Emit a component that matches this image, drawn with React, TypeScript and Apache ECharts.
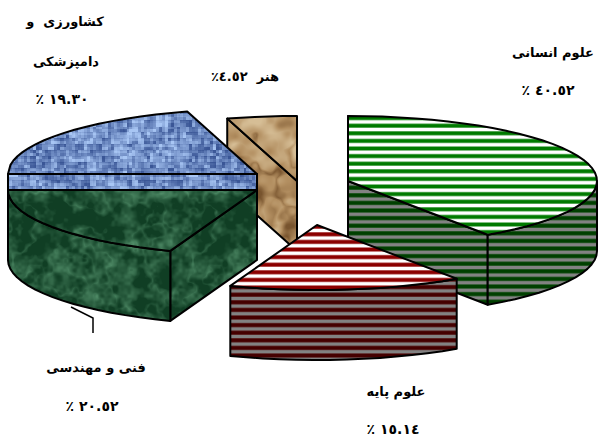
import React, { useEffect, useRef } from "react";
import * as echarts from "echarts";

// ---- data (clockwise from 12 o'clock) ----
const categories = ["علوم انسانی", "علوم پایه", "فنی و مهندسی", "کشاورزی و دامپزشکی", "هنر"];
const shares = [40.52, 15.14, 20.52, 19.3, 4.52];

// ---- layout ----
const centers = [[348, 181], [317, 225], [257, 190], [257, 174], [297, 181]];
const drawOrder = [4, 5, 3, 2, 1];
const RX = 249, RY = 65, DEPTH = 70;

// ---- textures ----
function stripes(color: string, soft: string, gap: string, center: number) {
  const c = document.createElement("canvas");
  c.width = 4; c.height = 38;
  const g = c.getContext("2d")!;
  g.fillStyle = gap; g.fillRect(0, 0, 4, 38);
  for (let i = -1; i < 6; i++) {
    const y = center + i * 7.6;
    g.fillStyle = soft; g.fillRect(0, y - 2.3, 4, 4.6);
    g.fillStyle = color; g.fillRect(0, y - 1.5, 4, 3);
  }
  return { image: c, repeat: "repeat", imageWidth: 4, imageHeight: 38 } as any;
}
function hash(x: number, y: number) {
  const s = Math.sin(x * 12.9898 + y * 78.233) * 43758.5453;
  return s - Math.floor(s);
}
// tileable smooth noise built from a fixed hash
function noise(x: number, y: number, cells: number, seed: number) {
  const fx = x * cells, fy = y * cells;
  const ix = Math.floor(fx), iy = Math.floor(fy);
  const tx = fx - ix, ty = fy - iy;
  const sx = tx * tx * (3 - 2 * tx), sy = ty * ty * (3 - 2 * ty);
  const at = (a: number, b: number) => hash((a % cells) + seed, (b % cells) + seed * 2);
  const top = at(ix, iy) + (at(ix + 1, iy) - at(ix, iy)) * sx;
  const bot = at(ix, iy + 1) + (at(ix + 1, iy + 1) - at(ix, iy + 1)) * sx;
  return top + (bot - top) * sy;
}
function fbm(x: number, y: number, base: number, seed: number) {
  return (noise(x, y, base, seed) * 0.5 + noise(x, y, base * 2, seed + 3) * 0.3 + noise(x, y, base * 4, seed + 7) * 0.2);
}
function texture(fn: (x: number, y: number) => number[]) {
  const N = 180;
  const c = document.createElement("canvas");
  c.width = N; c.height = N;
  const g = c.getContext("2d")!;
  const im = g.createImageData(N, N);
  for (let y = 0; y < N; y++) for (let x = 0; x < N; x++) {
    const v = fn(x / N, y / N);
    const i = (y * N + x) * 4;
    im.data[i] = v[0]; im.data[i + 1] = v[1]; im.data[i + 2] = v[2]; im.data[i + 3] = 255;
  }
  g.putImageData(im, 0, 0);
  return { image: c, repeat: "repeat", imageWidth: N, imageHeight: N } as any;
}
const mix = (a: number[], b: number[], t: number) => {
  const k = Math.max(0, Math.min(1, t));
  return a.map((v, i) => v + (b[i] - v) * k);
};
const marble = () => texture((x, y) => {
  const n = fbm(x, y, 14, 5);
  const vein = 1 - Math.abs(2 * fbm(x, y, 9, 11) - 1) * 3.6;
  const t = 0.1 + (n - 0.5) * 1.3 + Math.max(0, vein) * 0.36;
  return mix([16, 62, 36], [88, 150, 112], t);
});
const denim = () => texture((x, y) => {
  const px = Math.floor(x * 180), py = Math.floor(y * 180);
  const h = hash(Math.floor(px / 3) % 60, Math.floor(py / 6) % 30) * 0.5 + hash(Math.floor(px / 6) % 30 + 40, Math.floor(py / 3) % 60) * 0.5;
  const low = fbm(x, y, 12, 21);
  const t = 0.52 + 1.1 * (h - 0.5) + 0.8 * (low - 0.5) + (py % 6 === 0 ? -0.12 : 0);
  return mix([58, 86, 150], [168, 198, 244], t);
});
const paper = () => texture((x, y) => {
  const n = fbm(x, y, 5, 31);
  const crease = Math.max(0, 1 - Math.abs(2 * fbm(x + y * 0.3, y, 4, 37) - 1) * 5);
  const t = 0.42 + (n - 0.5) * 2 + crease * 0.3 - Math.max(0, 1 - Math.abs(2 * fbm(x, y, 6, 43) - 1) * 6) * 0.3;
  return t < 0.5 ? mix([120, 84, 46], [178, 142, 96], t * 2) : mix([178, 142, 96], [214, 190, 150], t * 2 - 1);
});

// ---- labels ----
const labelLines = [
  { text: "کشاورزی  و", x: 65, y: 21, size: 13 },
  { text: "دامپزشکی", x: 66, y: 61, size: 13 },
  { text: "٪ ١٩.٣٠", x: 62, y: 99, size: 14 },
  { text: "٪٤.٥٢\u200E  هنر", x: 245, y: 76, size: 13 },
  { text: "علوم انسانی", x: 553, y: 52, size: 13 },
  { text: "٪ ٤٠.٥٢", x: 548, y: 90, size: 14 },
  { text: "فنی و مهندسی", x: 96, y: 367, size: 13 },
  { text: "٪ ٢٠.٥٢", x: 92, y: 406, size: 14 },
  { text: "علوم پایه", x: 396, y: 391, size: 13 },
  { text: "٪ ١٥.١٤", x: 393, y: 429, size: 14 },
];
const leader = [[71, 307], [93, 318], [93, 333]];

export default function App() {
  const ref = useRef<HTMLDivElement>(null);
  useEffect(() => {
    const chart = echarts.init(ref.current!, null, { renderer: "svg" });
    const total = shares.reduce((a, b) => a + b, 0);
    const green = stripes("#007a00", "#66b066", "#ffffff", 4.1);
    const greenSide = stripes("#004000", "#2a5a2a", "#828282", 5.3);
    const red = stripes("#8b0000", "#b86060", "#ffffff", 6.3);
    const redSide = stripes("#450000", "#5e2a2a", "#828282", 5.9);
    const mb = marble(), dn = denim(), pp = paper();
    const skins = [
      { top: green, wall: greenSide },
      { top: red, wall: redSide },
      { top: mb, wall: mb },
      { top: dn, wall: dn },
      { top: pp, wall: pp },
    ];
    const renderItem = (params: any, api: any) => {
      const i = params.dataIndex;
      const value = api.value(1);
      let before = 0;
      for (let k = 0; k < i; k++) before += shares[k];
      const a0 = (before / total) * 360;
      const a1 = a0 + (value / total) * 360;
      const [cx, cy] = centers[i];
      const pt = (deg: number) => {
        const d = deg > 270 && deg < 275 ? 270 : deg;
        const r = (d * Math.PI) / 180;
        return [cx + RX * Math.sin(r), cy - RY * Math.cos(r)];
      };
      const down = (p: number[]) => [p[0], p[1] + DEPTH];
      const arc = (from: number, to: number) => {
        const n = Math.max(2, Math.ceil((to - from) / 4));
        const out: number[][] = [];
        for (let k = 0; k <= n; k++) out.push(pt(from + ((to - from) * k) / n));
        return out;
      };
      const line = { stroke: "#000", lineWidth: 2, lineJoin: "round" };
      const children: any[] = [];
      const z = drawOrder[i] * 10;
      const face = (points: number[][], fill: any, z2: number) =>
        children.push({ type: "polygon", z2, shape: { points }, style: { fill, ...line } });
      const c = [cx, cy];
      const sinA0 = Math.sin((a0 * Math.PI) / 180);
      const sinA1 = Math.sin((a1 * Math.PI) / 180);
      if (sinA0 <= 0) {
        const p = pt(a0);
        face([c, p, down(p), down(c)], skins[i].wall, z);
      }
      if (sinA1 > 0) {
        const p = pt(a1);
        face([c, p, down(p), down(c)], skins[i].wall, z + 1);
      }
      const w0 = Math.max(a0, 90), w1 = Math.min(a1, 270);
      if (w1 > w0) {
        const top = arc(w0, w1);
        face([...top, ...top.slice().reverse().map(down)], skins[i].wall, z + 2);
      }
      face([c, ...arc(a0, a1)], skins[i].top, z + 3);
      return { type: "group", children };
    };
    chart.setOption({
      animation: false,
      backgroundColor: "#fff",
      series: [{
        type: "custom",
        coordinateSystem: "none",
        silent: true,
        clip: false,
        renderItem,
        data: categories.map((name, i) => ({ name, value: [i, shares[i]] })),
      }],
      graphic: [
        { type: "polyline", z: 1, silent: true, shape: { points: leader }, style: { stroke: "#000", lineWidth: 1.5, fill: "none" } },
        ...labelLines.map((l) => ({
          type: "text", x: l.x, y: l.y, silent: true,
          style: { text: l.text, fill: "#000", font: `bold ${l.size}px 'DejaVu Sans'`, align: "center", verticalAlign: "middle" },
        })),
      ],
    });
    return () => chart.dispose();
  }, []);
  return <div ref={ref} style={{ position: "absolute", left: 0, top: 0, width: 598, height: 442 }} />;
}
